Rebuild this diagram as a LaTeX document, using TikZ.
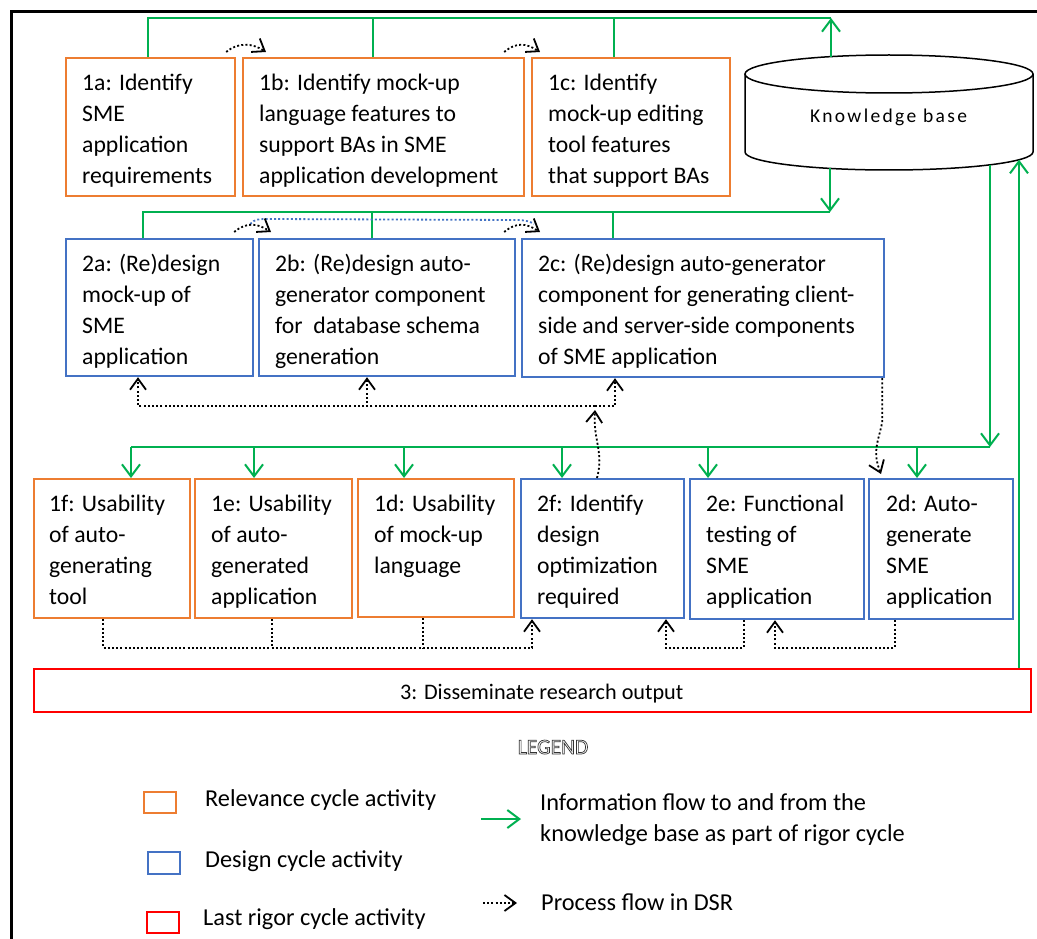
\documentclass[tikz,border=0pt]{standalone}
\usepackage{fontspec}
\setmainfont{Carlito}
\newfontfamily\kbfont[LetterSpace=12]{Carlito}
\usetikzlibrary{arrows.meta,calc}
\definecolor{relC}{HTML}{ED7D31}
\definecolor{desC}{HTML}{4472C4}
\definecolor{rigC}{HTML}{FF0000}
\definecolor{kbC}{HTML}{00B050}
% hollow (stroked) lettering for the legend heading
\newcommand\hollowtext[1]{\special{pdf:literal direct 2 Tr 0.7 w 0.2 0.2 0.2 RG}#1\special{pdf:literal direct 0 Tr}}

\begin{document}
\begin{tikzpicture}[x=1pt,y=-1pt,
  actbox/.style={draw, line width=2.2pt, inner sep=0pt, anchor=north west},
  relbox/.style={actbox, draw=relC},
  desbox/.style={actbox, draw=desC},
  rigbox/.style={actbox, draw=rigC},
  boxtext/.style={anchor=north west, inner sep=0pt, align=left,
                  font=\fontsize{23.7}{31}\selectfont},
  legtext/.style={anchor=base west, inner sep=0pt,
                  font=\fontsize{24.3}{31}\selectfont},
  kbwire/.style={draw=kbC, line width=2pt},
  kbarrow/.style={kbwire, -{Straight Barb[length=12pt,width=18pt]}},
  dsrflow/.style={draw=black, line width=1.8pt, dash pattern=on 2pt off 2.2pt},
  dsrarrow/.style={dsrflow, -{Straight Barb[length=11pt,width=16pt]}}
]
\useasboundingbox (0,0) rectangle (1037,939);
\fill[white] (0,0) rectangle (1037,939);

% outer frame
\draw[line width=3.5pt] (1037,11.5) -- (11.5,11.5) -- (11.5,939);

% ---------- knowledge base ----------
\draw[line width=1.5pt] (889,74) ellipse [x radius=144, y radius=19];
\draw[line width=1.5pt] (745,74) -- (745,152)
  .. controls (745,161.94) and (809.47,170) .. (889,170)
  .. controls (968.53,170) and (1033,161.94) .. (1033,152) -- (1033,74);
\node[font=\kbfont\fontsize{19.5}{22}\selectfont, anchor=base west, inner sep=0pt] (kb) at (810,123) {Knowledge base};
\coordinate (kbT)  at (831,56.6);
\coordinate (kbB1) at (830,168.4);
\coordinate (kbB2) at (990,164.8);
\coordinate (kbB3) at (1019,159.7);

% ---------- row 1: relevance activities ----------
\node[relbox, minimum width=169pt, minimum height=138pt] (b1a) at (65,57) {};
\node[relbox, minimum width=281pt, minimum height=138pt] (b1b) at (242,57) {};
\node[relbox, minimum width=198pt, minimum height=138pt] (b1c) at (531,57) {};
\node[boxtext] (t1a) at ([xshift=17pt,yshift=-12pt]b1a.north west)
  {\strut 1a: Identify\\SME\\application\\requirements};
\node[boxtext] (t1b) at ([xshift=17pt,yshift=-12pt]b1b.north west)
  {\strut 1b: Identify mock-up\\language features to\\support BAs in SME\\application development};
\node[boxtext] (t1c) at ([xshift=17pt,yshift=-12pt]b1c.north west)
  {\strut 1c: Identify\\mock-up editing\\tool features\\that support BAs};

% ---------- row 2: design activities ----------
\node[desbox, minimum width=187pt, minimum height=137pt] (b2a) at (65,238) {};
\node[desbox, minimum width=256pt, minimum height=137pt] (b2b) at (258,238) {};
\node[desbox, minimum width=362pt, minimum height=138pt] (b2c) at (521,238) {};
\node[boxtext] (t2a) at ([xshift=17pt,yshift=-12pt]b2a.north west)
  {\strut 2a: (Re)design\\mock-up of\\SME\\application};
\node[boxtext] (t2b) at ([xshift=17pt,yshift=-12pt]b2b.north west)
  {\strut 2b: (Re)design auto-\\generator component\\for\ \ database schema\\generation};
\node[boxtext] (t2c) at ([xshift=17pt,yshift=-12pt]b2c.north west)
  {\strut 2c: (Re)design auto-generator\\component for generating client-\\side and server-side components\\of SME application};

% ---------- row 3: evaluation activities ----------
\node[relbox, minimum width=156pt, minimum height=139pt] (b1f) at (33,478) {};
\node[relbox, minimum width=157pt, minimum height=139pt] (b1e) at (194,478) {};
\node[relbox, minimum width=156pt, minimum height=138pt] (b1d) at (357,478) {};
\node[desbox, minimum width=163pt, minimum height=139pt] (b2f) at (520,478) {};
\node[desbox, minimum width=174pt, minimum height=140pt] (b2e) at (689,478) {};
\node[desbox, minimum width=144pt, minimum height=140pt] (b2d) at (868,478) {};
\node[boxtext] (t1f) at ([xshift=16pt,yshift=-12pt]b1f.north west)
  {\strut 1f: Usability\\of auto-\\generating\\tool};
\node[boxtext] (t1e) at ([xshift=17pt,yshift=-12pt]b1e.north west)
  {\strut 1e: Usability\\of auto-\\generated\\application};
\node[boxtext] (t1d) at ([xshift=17pt,yshift=-12pt]b1d.north west)
  {\strut 1d: Usability\\of mock-up\\language};
\node[boxtext] (t2f) at ([xshift=17pt,yshift=-12pt]b2f.north west)
  {\strut 2f: Identify\\design\\optimization\\required};
\node[boxtext] (t2e) at ([xshift=17pt,yshift=-12pt]b2e.north west)
  {\strut 2e: Functional\\testing of\\SME\\application};
\node[boxtext] (t2d) at ([xshift=18pt,yshift=-12pt]b2d.north west)
  {\strut 2d: Auto-\\generate\\SME\\application};

% ---------- row 4: dissemination ----------
\node[rigbox, minimum width=997pt, minimum height=43pt] (b3) at (33,668) {};
\node[anchor=base west, inner sep=0pt, font=\fontsize{22.2}{28}\selectfont] (t3)
  at (400,699) {3: Disseminate research output};

% ---------- rigor cycle: knowledge base links ----------
\coordinate (kbup) at (831,18);
\draw[kbwire] ([xshift=83pt]b1a.north west) |- (kbup);
\draw[kbwire] ([xshift=131pt]b1b.north west) |- (kbup);
\draw[kbwire] ([xshift=83pt]b1c.north west) |- (kbup);
\draw[kbarrow] (kbT) -- (kbup);

\coordinate (kbdn) at (830,212);
\draw[kbarrow] (kbB1) -- (kbdn);
\draw[kbwire] ([xshift=78pt]b2a.north west) |- (kbdn);
\draw[kbwire] ([xshift=114pt]b2b.north west) |- (kbdn);
\draw[kbwire] ([xshift=92pt]b2c.north west) |- (kbdn);

\coordinate (kbdn2) at (990,447);
\draw[kbarrow] (kbB2) -- (kbdn2);
\coordinate (d1f) at ([xshift=98pt]b1f.north west);
\coordinate (d1e) at ([xshift=60pt]b1e.north west);
\coordinate (d1d) at ([xshift=47pt]b1d.north west);
\coordinate (d2f) at ([xshift=42pt]b2f.north west);
\coordinate (d2e) at ([xshift=19pt]b2e.north west);
\coordinate (d2d) at ([xshift=49pt]b2d.north west);
\draw[kbwire] (d1f |- kbdn2) -- (kbdn2);
\foreach \d in {d1f,d1e,d1d,d2f,d2e,d2d}
  \draw[kbarrow] (\d |- kbdn2) -- (\d);

\draw[kbarrow] (b3.north -| kbB3) -- (kbB3);

% ---------- process flow ----------
% row 1 sequence
\draw[dsrarrow] ([xshift=-10pt,yshift=5pt]b1a.north east)
  .. controls +(12,-10) and +(-14,-9) .. ([xshift=24pt,yshift=5pt]b1b.north west);
\draw[dsrarrow] ([xshift=-21pt,yshift=5pt]b1b.north east)
  .. controls +(12,-10) and +(-14,-9) .. ([xshift=9pt,yshift=5pt]b1c.north west);

% row 2 sequence
\coordinate (bdS) at ([xshift=-4pt,yshift=14pt]b2a.north east);
\coordinate (bdE) at ([xshift=13pt,yshift=14pt]b2c.north west);
\draw[draw=desC, line width=1.8pt, dash pattern=on 2pt off 2.2pt]
  (bdS) .. controls ($(bdS)+(4,-5)$) and ($(bdS)+(10,-5)$) .. ($(bdS)+(18,-5)$)
  -- ($(bdE)+(-18,-4)$) .. controls ($(bdE)+(-8,-4)$) and ($(bdE)+(-3,-2)$) .. (bdE);
\draw[dsrarrow] ([xshift=-20pt,yshift=6pt]b2a.north east)
  .. controls +(12,-10) and +(-14,-9) .. ([xshift=13pt,yshift=6pt]b2b.north west);
\draw[dsrarrow] ([xshift=-12pt,yshift=6pt]b2b.north east)
  .. controls +(12,-10) and +(-14,-9) .. ([xshift=19pt,yshift=6pt]b2c.north west);

% redesign loop from 2f back to 2a, 2b, 2c
\coordinate (h2) at (595,406);
\draw[dsrarrow] (h2) -| ([xshift=73pt]b2a.south west);
\draw[dsrarrow] (h2) -| ([xshift=109pt]b2b.south west);
\draw[dsrarrow] (h2) -| ([xshift=94pt]b2c.south west);
\draw[dsrarrow] ([xshift=77pt]b2f.north west)
  .. controls +(7,-26) and +(-2,30) .. ([yshift=-4pt]h2);

% 2c to 2d
\draw[dsrarrow] ([xshift=-3pt]b2c.south east) -- ++(0,44)
  .. controls +(-4,20) and +(-9,-23) .. ([xshift=13pt,yshift=4pt]b2d.north west);

% evaluation results into 2f
\coordinate (p1f) at ([xshift=70pt]b1f.south west);
\coordinate (p1e) at ([xshift=78pt]b1e.south west);
\coordinate (p1d) at ([xshift=66pt]b1d.south west);
\coordinate (q2fL) at ([xshift=12pt]b2f.south west);
\coordinate (j3) at (0,648);
\draw[dsrarrow] (p1f) |- (q2fL |- j3) -- (q2fL);
\draw[dsrflow] (p1e) -- (p1e |- j3);
\draw[dsrflow] (p1d) -- (p1d |- j3);

\coordinate (p2e) at ([xshift=55pt]b2e.south west);
\coordinate (q2fR) at ([xshift=146pt]b2f.south west);
\draw[dsrarrow] (p2e) |- (q2fR |- j3) -- (q2fR);

\coordinate (p2d) at ([xshift=27pt]b2d.south west);
\coordinate (q2e) at ([xshift=86pt]b2e.south west);
\draw[dsrarrow] (p2d) |- (q2e |- j3) -- (q2e);

% ---------- legend ----------
\node[anchor=base, inner sep=0pt, font=\fontsize{21.5}{24}\selectfont, text=white] (legend)
  at (553,754) {\hollowtext{LEGEND}};

\node[relbox, minimum width=32pt, minimum height=21pt] (lrel) at (143,791) {};
\node[desbox, minimum width=32pt, minimum height=22pt] (ldes) at (147,851) {};
\node[rigbox, minimum width=32pt, minimum height=21pt] (lrig) at (146,911) {};
\node[legtext] (lrelt) at (205,806) {Relevance cycle activity};
\node[legtext] (ldest) at (205,867) {Design cycle activity};
\node[legtext] (lrigt) at (203,925) {Last rigor cycle activity};

\coordinate (lgA) at (481,819);
\coordinate (lgB) at (521,819);
\draw[kbarrow] (lgA) -- (lgB);
\node[anchor=north west, inner sep=0pt, align=left, font=\fontsize{24.3}{31}\selectfont] (lkbt)
  at (540,788.3) {\strut Information flow to and from the\\knowledge base as part of rigor cycle};

\coordinate (ldA) at (483,903);
\coordinate (ldB) at (517,903);
\draw[dsrarrow] (ldA) -- (ldB);
\node[legtext] (ldsrt) at (541,910) {Process flow in DSR};
\end{tikzpicture}
\end{document}
